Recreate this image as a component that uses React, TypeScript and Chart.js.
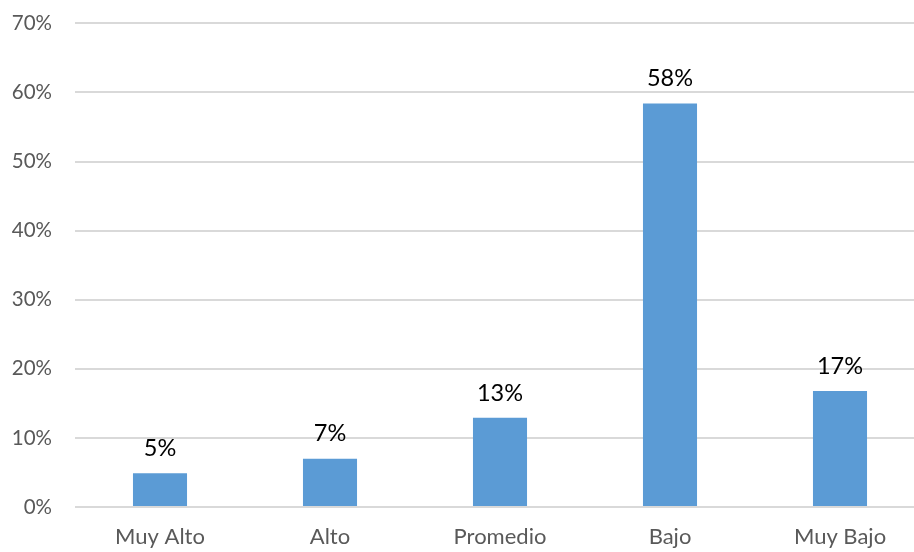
import React, { useEffect, useRef } from "react";
import { Chart, registerables } from "chart.js";

Chart.register(...registerables);

const categories = ["Muy Alto", "Alto", "Promedio", "Bajo", "Muy Bajo"];
const values = [4.9, 7.0, 12.9, 58.4, 16.8];
const yTicks = [0, 10, 20, 30, 40, 50, 60, 70];

const FONT = "Lato, 'Open Sans', sans-serif";

const valueLabels = {
  id: "valueLabels",
  afterDatasetsDraw(chart: any) {
    const ctx = chart.ctx;
    const meta = chart.getDatasetMeta(0);
    ctx.save();
    ctx.font = `23.5px ${FONT}`;
    ctx.fillStyle = "#000000";
    ctx.textAlign = "center";
    ctx.textBaseline = "bottom";
    meta.data.forEach((bar: any, i: number) => {
      ctx.fillText(`${Math.round(values[i])}%`, bar.x, bar.y - 13);
    });
    ctx.restore();
  },
};

export default function App() {
  const ref = useRef<HTMLCanvasElement | null>(null);
  useEffect(() => {
    document.body.style.margin = "0";
    document.body.style.overflow = "hidden";
    const chart = new Chart(ref.current as HTMLCanvasElement, {
      type: "bar",
      data: {
        labels: categories,
        datasets: [
          {
            data: values,
            backgroundColor: "#5b9bd5",
            borderWidth: 0,
            barPercentage: 0.318,
            categoryPercentage: 1,
          },
        ],
      },
      options: {
        responsive: false,
        animation: false,
        devicePixelRatio: 1,
        layout: { padding: { top: 0, right: 0, left: 0, bottom: 0 } },
        plugins: { legend: { display: false }, tooltip: { enabled: false } },
        scales: {
          x: {
            grid: { display: false, drawTicks: false },
            border: { display: false },
            ticks: {
              color: "#595959",
              font: { family: FONT, size: 22 },
              padding: 17,
              maxRotation: 0,
            },
            afterFit(scale: any) {
              scale.height = 45;
            },
          },
          y: {
            min: 0,
            max: 70,
            afterBuildTicks(scale: any) {
              scale.ticks = yTicks.map((v) => ({ value: v }));
            },
            grid: { color: "#d9d9d9", lineWidth: 2, drawTicks: false },
            border: { display: false },
            ticks: {
              color: "#595959",
              font: { family: FONT, size: 20.5 },
              padding: 23,
              callback: (v: any) => `${v}%`,
            },
            afterFit(scale: any) {
              scale.width = 75;
            },
          },
        },
      },
      plugins: [valueLabels],
    });
    return () => chart.destroy();
  }, []);
  return (
    <div
      style={{
        position: "fixed",
        left: 0,
        top: 0,
        width: 914,
        height: 552,
        overflow: "hidden",
        background: "#ffffff",
      }}
    >
      <canvas
        ref={ref}
        width={925}
        height={564}
        style={{ position: "absolute", left: 0, top: -12, width: 925, height: 564 }}
      />
    </div>
  );
}
